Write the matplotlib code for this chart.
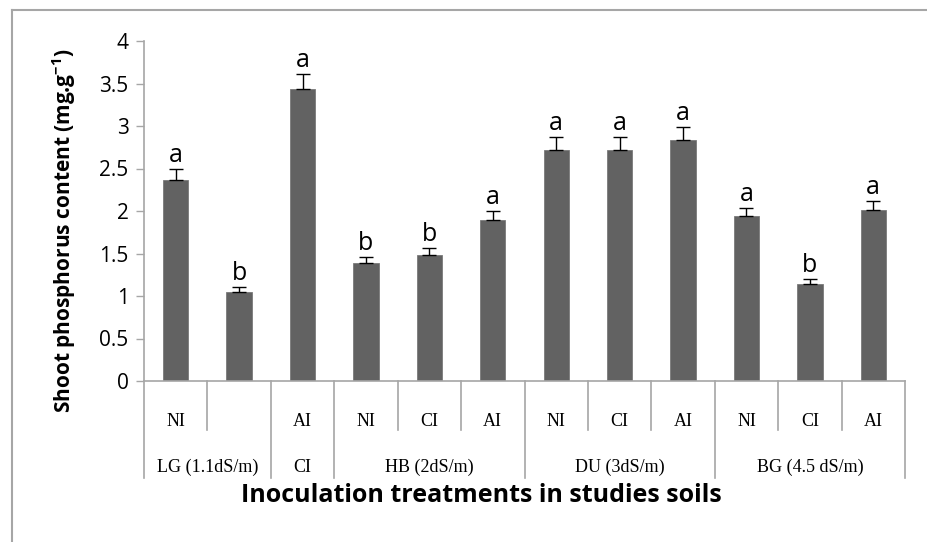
import matplotlib
matplotlib.use("Agg")
import matplotlib.pyplot as plt

# ---- data ----
treatments = ["NI", "", "AI", "NI", "CI", "AI", "NI", "CI", "AI", "NI", "CI", "AI"]
values = [2.36, 1.05, 3.43, 1.39, 1.48, 1.90, 2.72, 2.72, 2.83, 1.94, 1.14, 2.01]
errors = [0.13, 0.06, 0.18, 0.07, 0.08, 0.10, 0.15, 0.15, 0.16, 0.10, 0.06, 0.11]
letters = ["a", "b", "a", "b", "b", "a", "a", "a", "a", "a", "b", "a"]
groups = ["LG (1.1dS/m)", "CI", "HB (2dS/m)", "DU (3dS/m)", "BG (4.5 dS/m)"]
group_sizes = [2, 1, 3, 3, 3]
yticks = [0, 0.5, 1, 1.5, 2, 2.5, 3, 3.5, 4]
ytick_labels = ["0", "0.5", "1", "1.5", "2", "2.5", "3", "3.5", "4"]

plt.rcParams["mathtext.fontset"] = "custom"
plt.rcParams["mathtext.rm"] = "Open Sans"
plt.rcParams["mathtext.bf"] = "Open Sans:bold"
plt.rcParams["mathtext.default"] = "bf"

W, H = 927, 542
fig = plt.figure(figsize=(W / 100, H / 100), dpi=100)
fig.patch.set_facecolor("white")

ax_l, ax_r, ax_t, ax_b = 144, 905, 41, 381
ax = fig.add_axes([ax_l / W, 1 - ax_b / H, (ax_r - ax_l) / W, (ax_b - ax_t) / H])

sans = "Open Sans"
serif = "Liberation Serif"
grey = "#a6a6a6"
barc = "#626262"

x = list(range(len(values)))
ax.bar(x, values, width=0.4, color=barc, edgecolor="#7a7a7a", linewidth=0.6, zorder=2)
ax.errorbar(x, values, yerr=[[0] * len(errors), errors], fmt="none", ecolor="black",
            elinewidth=1.0, capsize=5, capthick=1.0, zorder=3)
for xi, v, e, l in zip(x, values, errors, letters):
    ax.annotate(l, (xi, v + e), xytext=(0, 5), textcoords="offset points",
                ha="center", va="baseline", fontsize=18, family=sans)

ax.set_xlim(-0.5, len(values) - 0.5)
ax.set_ylim(0, 4)
ax.set_yticks(yticks)
ax.set_yticklabels(ytick_labels, fontsize=15, family=sans)
ax.tick_params(axis="y", direction="out", length=6, width=1, color=grey, pad=5)
ax.set_xticks([])
for s in ["top", "right"]:
    ax.spines[s].set_visible(False)
ax.spines["left"].set_color(grey)
ax.spines["bottom"].set_color(grey)
ax.spines["left"].set_linewidth(1.2)
ax.spines["bottom"].set_linewidth(1.2)

axh = ax_b - ax_t
y1 = -(430 - ax_b) / axh
y2 = -(478 - ax_b) / axh
trans = ax.get_xaxis_transform()
bounds = [0]
for g in group_sizes:
    bounds.append(bounds[-1] + g)
for i in range(len(values) + 1):
    bottom = y2 if i in bounds else y1
    ax.plot([i - 0.5, i - 0.5], [0, bottom], transform=trans, color=grey,
            lw=1.2, clip_on=False)

for xi, t in zip(x, treatments):
    ax.text(xi, -(421 - ax_b) / axh, t, transform=trans, ha="center", va="center",
            fontsize=13, family=serif)
for gi, (g, n) in enumerate(zip(groups, group_sizes)):
    c = (bounds[gi] + bounds[gi + 1] - 1) / 2
    ax.text(c, -(467 - ax_b) / axh, g, transform=trans, ha="center", va="center",
            fontsize=13, family=serif)

fig.text(64 / W, 1 - 231 / H, r"Shoot phosphorus content (mg.g$^{-1}$)",
         rotation=90, ha="center", va="center", fontsize=15, fontweight="bold", family=sans)
fig.text(481 / W, 1 - 495 / H, "Inoculation treatments in studies soils",
         ha="center", va="center", fontsize=18, fontweight="bold", family=sans)

# outer chart border (left and top visible)
fig.add_artist(plt.Line2D([12 / W, 12 / W], [0, 1 - 10 / H], transform=fig.transFigure,
                          color=grey, lw=1.5))
fig.add_artist(plt.Line2D([12 / W, 1], [1 - 10 / H, 1 - 10 / H], transform=fig.transFigure,
                          color=grey, lw=1.5))

fig.savefig("out.png", dpi=100)
